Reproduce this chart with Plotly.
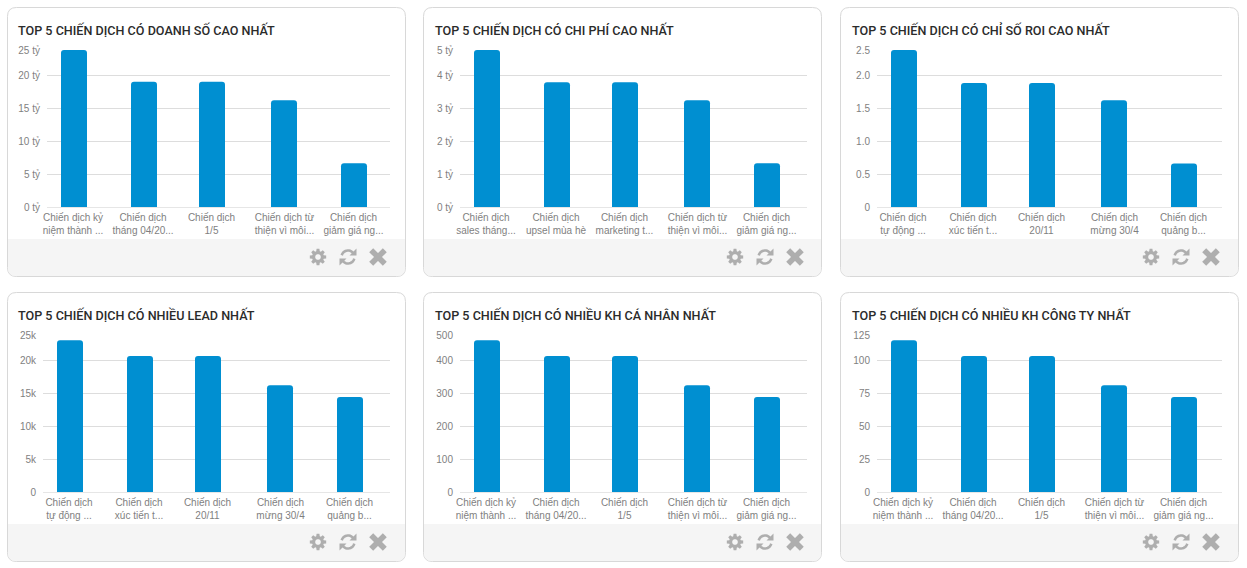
import math
import plotly.graph_objects as go
from plotly.subplots import make_subplots

W, H = 1247, 568
BLUE = "#008fd1"

titles = [
    "TOP 5 CHIẾN DỊCH CÓ DOANH SỐ CAO NHẤT",
    "TOP 5 CHIẾN DỊCH CÓ CHI PHÍ CAO NHẤT",
    "TOP 5 CHIẾN DỊCH CÓ CHỈ SỐ ROI CAO NHẤT",
    "TOP 5 CHIẾN DỊCH CÓ NHIỀU LEAD NHẤT",
    "TOP 5 CHIẾN DỊCH CÓ NHIỀU KH CÁ NHÂN NHẤT",
    "TOP 5 CHIẾN DỊCH CÓ NHIỀU KH CÔNG TY NHẤT",
]

cats_revenue = ["Chiến dịch kỷ<br>niệm thành ...", "Chiến dịch<br>tháng 04/20...", "Chiến dịch<br>1/5",
                "Chiến dịch từ<br>thiện vì môi...", "Chiến dịch<br>giảm giá ng..."]
cats_cost = ["Chiến dịch<br>sales tháng...", "Chiến dịch<br>upsel mùa hè", "Chiến dịch<br>marketing t...",
             "Chiến dịch từ<br>thiện vì môi...", "Chiến dịch<br>giảm giá ng..."]
cats_roi = ["Chiến dịch<br>tự động ...", "Chiến dịch<br>xúc tiến t...", "Chiến dịch<br>20/11",
            "Chiến dịch<br>mừng 30/4", "Chiến dịch<br>quảng b..."]

values_revenue = [23.8, 19.0, 19.0, 16.2, 6.65]
values_cost = [4.76, 3.78, 3.78, 3.24, 1.33]
values_roi = [2.38, 1.88, 1.88, 1.62, 0.66]
values_lead = [23.0, 20.6, 20.6, 16.2, 14.4]
values_personal = [460, 412, 412, 324, 288]
values_company = [115, 103, 103, 81, 72]

# The reference's top gridline sits closer than the others: its top label is placed
# at the axis value where that line falls on the evenly spaced lower ticks.
ticks_revenue = [0, 5, 10, 15, 20, 23.8]
ticks_cost = [0, 1, 2, 3, 4, 4.76]
ticks_roi = [0, 0.5, 1.0, 1.5, 2.0, 2.38]
ticks_lead = [0, 5, 10, 15, 20, 23.8]
ticks_personal = [0, 100, 200, 300, 400, 476]
ticks_company = [0, 25, 50, 75, 100, 119]

labels_revenue = ["0 tỷ", "5 tỷ", "10 tỷ", "15 tỷ", "20 tỷ", "25 tỷ"]
labels_cost = ["0 tỷ", "1 tỷ", "2 tỷ", "3 tỷ", "4 tỷ", "5 tỷ"]
labels_roi = ["0", "0.5", "1.0", "1.5", "2.0", "2.5"]
labels_lead = ["0", "5k", "10k", "15k", "20k", "25k"]
labels_personal = ["0", "100", "200", "300", "400", "500"]
labels_company = ["0", "25", "50", "75", "100", "125"]

panels = [
    (cats_revenue, values_revenue, ticks_revenue, labels_revenue),
    (cats_cost, values_cost, ticks_cost, labels_cost),
    (cats_roi, values_roi, ticks_roi, labels_roi),
    (cats_roi, values_lead, ticks_lead, labels_lead),
    (cats_revenue, values_personal, ticks_personal, labels_personal),
    (cats_revenue, values_company, ticks_company, labels_company),
]

# layout geometry in page pixels
card_x = [7, 423, 840]
card_y = [7, 292]
card_w, card_h = 398, 269
icon_x = [318, 735, 1151]
plot_x = [(47, 390), (460, 807), (877, 1222), (43, 390), (460, 807), (877, 1222)]
plot_y = [(50, 207), (335, 492)]
title_x = [16, 433, 850]
title_y = [30, 315]
step = 70.0
bar_px = 26
# small per-slot pixel nudges of bars and labels seen in the reference
bar_nudge = [0, 0, -2, 0, 0]
label_nudge = [-1, -1, -2.5, 0.5, -0.5]


def px(x, y):
    return f"{x / W:.5f} {1 - y / H:.5f}"


def poly(points, close=True):
    s = "M " + " L ".join(px(x, y) for x, y in points)
    return s + (" Z" if close else "")


def rounded(x0, y0, x1, y1, r_top, r_bot):
    return (f"M {px(x0 + r_top, y0)} L {px(x1 - r_top, y0)} Q {px(x1, y0)} {px(x1, y0 + r_top)} "
            f"L {px(x1, y1 - r_bot)} Q {px(x1, y1)} {px(x1 - r_bot, y1)} "
            f"L {px(x0 + r_bot, y1)} Q {px(x0, y1)} {px(x0, y1 - r_bot)} "
            f"L {px(x0, y0 + r_top)} Q {px(x0, y0)} {px(x0 + r_top, y0)} Z")


def circle_pts(cx, cy, r, n=24):
    return [(cx + r * math.cos(2 * math.pi * i / n), cy + r * math.sin(2 * math.pi * i / n)) for i in range(n)]


def gear_pts(cx, cy):
    pts = []
    teeth = 8
    for i in range(teeth):
        a = 2 * math.pi * i / teeth
        for da, r in [(-0.30, 6.0), (-0.17, 8.3), (0.17, 8.3), (0.30, 6.0)]:
            pts.append((cx + r * math.cos(a + da), cy + r * math.sin(a + da)))
    return pts


def arc_pts(cx, cy, r, a0, a1, n=12):
    return [(cx + r * math.cos(math.radians(a0 + (a1 - a0) * i / n)),
             cy + r * math.sin(math.radians(a0 + (a1 - a0) * i / n))) for i in range(n + 1)]


ICON = "#aeaeae"
FOOT = "#f5f5f5"
shapes = []
for j in range(2):
    for i in range(3):
        x0, y0 = card_x[i], card_y[j]
        x1, y1 = x0 + card_w, y0 + card_h
        foot_top = y0 + 232
        shapes.append(dict(type="path", path=rounded(x0 + .5, y0 + .5, x1 + .5, y1 + .5, 9, 9), xref="paper", yref="paper",
                           fillcolor="white", line=dict(color="#d8d8d8", width=1), layer="below"))
        shapes.append(dict(type="path", path=rounded(x0 + 1, foot_top, x1, y1, 0, 8.5), xref="paper", yref="paper",
                           fillcolor=FOOT, line=dict(width=0), layer="below"))
        gx = icon_x[i]
        ry, xx = gx + 30, gx + 60
        cy = y0 + 250
        shapes.append(dict(type="path", path=poly(gear_pts(gx, cy)), xref="paper", yref="paper",
                           fillcolor=ICON, line=dict(width=0)))
        shapes.append(dict(type="path", path=poly(circle_pts(gx, cy, 2.8)), xref="paper", yref="paper",
                           fillcolor=FOOT, line=dict(width=0)))
        shapes.append(dict(type="path", path=poly(arc_pts(ry, cy, 6.5, 195, 320), close=False), xref="paper", yref="paper",
                           line=dict(color=ICON, width=2.6)))
        shapes.append(dict(type="path", path=poly(arc_pts(ry, cy, 6.5, 15, 140), close=False), xref="paper", yref="paper",
                           line=dict(color=ICON, width=2.6)))
        shapes.append(dict(type="path", path=poly([(ry + 8.5, cy - 8.5), (ry + 8.5, cy - 1.5), (ry + 1.5, cy - 1.5)]),
                           xref="paper", yref="paper", fillcolor=ICON, line=dict(width=0)))
        shapes.append(dict(type="path", path=poly([(ry - 8.5, cy + 8.5), (ry - 8.5, cy + 1.5), (ry - 1.5, cy + 1.5)]),
                           xref="paper", yref="paper", fillcolor=ICON, line=dict(width=0)))
        for sgn in (1, -1):
            shapes.append(dict(type="path", path=poly([(xx - 6.8, cy - 6.8 * sgn), (xx + 6.8, cy + 6.8 * sgn)], close=False),
                               xref="paper", yref="paper", line=dict(color=ICON, width=5.6)))

fig = make_subplots(rows=2, cols=3)
annotations = []
for k, (cats, vals, tvals, tlabs) in enumerate(panels):
    row, col = k // 3 + 1, k % 3 + 1
    half = bar_px / 2 / step
    fig.add_trace(go.Bar(x=cats, y=vals, marker=dict(color=BLUE, line=dict(width=0), cornerradius=3),
                         width=2 * half, offset=[n / step - half for n in bar_nudge], showlegend=False),
                  row=row, col=col)
    x0, x1 = plot_x[k]
    y0, y1 = plot_y[row - 1]
    lo = -27 / step
    hi = lo + (x1 - x0) / step
    suffix = "" if k == 0 else str(k + 1)
    fig.layout["xaxis" + suffix].update(
        domain=[x0 / W, x1 / W], range=[lo, hi], type="category", tickangle=0,
        tickmode="array", tickvals=[s + n / step for s, n in enumerate(label_nudge)], ticktext=cats,
        ticklabelstandoff=1,
        tickfont=dict(family="Liberation Sans", size=10, color="#7f7f7f"), showgrid=False,
        showline=True, linecolor="#e6e6e6", linewidth=1, ticks="", ticklen=0, automargin=False, fixedrange=True)
    fig.layout["yaxis" + suffix].update(
        domain=[1 - y1 / H, 1 - y0 / H], range=[0, tvals[-1]], tickmode="array", tickvals=tvals, ticktext=tlabs,
        ticklabelstandoff=6,
        tickfont=dict(family="Liberation Sans", size=10, color="#7f7f7f"), showgrid=True, gridcolor="#dddddd",
        gridwidth=1, zeroline=False, showline=False, ticks="", automargin=False, fixedrange=True)
    annotations.append(dict(text=titles[k], xref="paper", yref="paper", x=title_x[col - 1] / W,
                            y=1 - title_y[row - 1] / H, xanchor="left", yanchor="middle", showarrow=False,
                            font=dict(family="Roboto", size=12.6, color="#2b2b2b", weight=500)))

fig.update_layout(width=W, height=H, margin=dict(l=0, r=0, t=0, b=0, autoexpand=False), paper_bgcolor="white",
                  plot_bgcolor="rgba(0,0,0,0)", shapes=shapes, annotations=annotations, showlegend=False)

fig.write_html("out.html", config=dict(displayModeBar=False),
               post_script="document.body.style.margin='0';document.documentElement.style.overflow='hidden';")
